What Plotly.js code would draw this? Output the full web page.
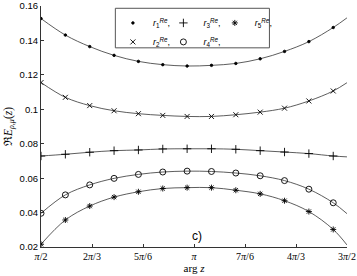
<!DOCTYPE html>
<html><head><meta charset="utf-8">
<script src="https://cdn.plot.ly/plotly-3.0.1.min.js"></script>
<style>html,body{margin:0;padding:0;background:#fff}#chart{width:357px;height:276px}</style>
</head><body><div id="chart"></div>
<script>
// marker positions (arg z, radians)
const argMarkers = [1.571, 1.821, 2.071, 2.321, 2.571, 2.821, 3.071, 3.321, 3.571, 3.821, 4.071, 4.321, 4.571];
const argEnd = 4.712;
const r1 = [0.1528,0.1432,0.1365,0.1314,0.1279,0.1260,0.1252,0.1256,0.1267,0.1294,0.1337,0.1394,0.1476];
const r1End = 0.1532;
const r2 = [0.1156,0.1070,0.1022,0.0992,0.0975,0.0965,0.0959,0.0959,0.0969,0.0984,0.1007,0.1049,0.1107];
const r2End = 0.1155;
const r3 = [0.0729,0.0739,0.0751,0.0760,0.0764,0.0770,0.0771,0.0771,0.0768,0.0760,0.0752,0.0743,0.0729];
const r3End = 0.0724;
const r4 = [0.0396,0.0503,0.0561,0.0599,0.0622,0.0636,0.0641,0.0639,0.0630,0.0614,0.0586,0.0536,0.0457];
const r4End = 0.0394;
const r5 = [0.0216,0.0357,0.0438,0.0490,0.0521,0.0540,0.0545,0.0545,0.0530,0.0509,0.0469,0.0406,0.0302];
const r5End = 0.0212;
const seriesNames = ['<i>r</i><sub>1</sub><sup><i>Re</i></sup>,', '<i>r</i><sub>2</sub><sup><i>Re</i></sup>,', '<i>r</i><sub>3</sub><sup><i>Re</i></sup>,', '<i>r</i><sub>4</sub><sup><i>Re</i></sup>,', '<i>r</i><sub>5</sub><sup><i>Re</i></sup>,'];
const xTickVals = [1.5708, 2.0944, 2.618, 3.1416, 3.6652, 4.1888, 4.7124];
const xTickText = ['<i>π</i>/2', '2<i>π</i>/3', '5<i>π</i>/6', '<i>π</i>', '7<i>π</i>/6', '4<i>π</i>/3', '3<i>π</i>/2'];
const yTickVals = [0.02, 0.04, 0.06, 0.08, 0.1, 0.12, 0.14, 0.16];
const yTickText = ['0.02', '0.04', '0.06', '0.08', '0.1', '0.12', '0.14', '0.16'];

const series = [
  {y: r1, end: r1End, sym: 'circle', size: 2.5, leg: 'legend'},
  {y: r2, end: r2End, sym: 'x-thin-open', size: 5, leg: 'legend'},
  {y: r3, end: r3End, sym: 'cross-thin-open', size: 6, leg: 'legend2'},
  {y: r4, end: r4End, sym: 'circle-open', size: 6, leg: 'legend2'},
  {y: r5, end: r5End, sym: 'asterisk-open', size: 5, leg: 'legend3'}
];
const traces = [];
series.forEach((s, i) => {
  traces.push({x: argMarkers.concat([argEnd]), y: s.y.concat([s.end]), mode: 'lines',
    line: {shape: 'spline', color: '#333', width: 0.8}, showlegend: false, hoverinfo: 'skip'});
});
series.forEach((s, i) => {
  traces.push({x: argMarkers, y: s.y, mode: 'markers', name: seriesNames[i], legend: s.leg,
    marker: {symbol: s.sym, size: s.size, color: '#000', line: {color: '#000', width: 0.9}}});
});
const legCommon = {orientation: 'v', bgcolor: 'rgba(0,0,0,0)', borderwidth: 0,
  font: {family: 'Liberation Sans', size: 9, color: '#000'}, yanchor: 'top', y: 0.99, xanchor: 'left', tracegroupgap: 0};
const layout = {
  width: 357, height: 276,
  margin: {l: 40.5, r: 10, t: 5.5, b: 29},
  paper_bgcolor: '#fff', plot_bgcolor: '#fff',
  showlegend: true,
  legend: Object.assign({}, legCommon, {x: 0.235}),
  legend2: Object.assign({}, legCommon, {x: 0.4}),
  legend3: Object.assign({}, legCommon, {x: 0.568}),
  xaxis: {range: [1.5708, 4.7124], tickvals: xTickVals, ticktext: xTickText, ticks: 'inside', ticklen: 3,
    tickcolor: '#333', showline: true, linecolor: '#333', linewidth: 1, showgrid: false, zeroline: false,
    tickfont: {family: 'Liberation Serif', size: 10, color: '#000'},
    title: {text: 'arg <i>z</i>', font: {family: 'Liberation Serif', size: 11, color: '#000'}, standoff: 1}},
  yaxis: {range: [0.02, 0.1601], tickvals: yTickVals, ticktext: yTickText, ticks: 'inside', ticklen: 3,
    ticklabeloverflow: 'allow',
    tickcolor: '#333', showline: true, linecolor: '#333', linewidth: 1, showgrid: false, zeroline: false,
    tickfont: {family: 'Liberation Sans', size: 9.5, color: '#000'},
    title: {text: 'ℜ<i>E</i><sub><i>ρ,μ</i></sub>(<i>z</i>)', font: {family: 'Liberation Serif', size: 11.5, color: '#000'}, standoff: 4}},
  shapes: [{type: 'rect', xref: 'paper', yref: 'paper', x0: 0.243, x1: 0.7465, y0: 0.8264, y1: 0.9905,
    line: {color: '#555', width: 1}, fillcolor: 'rgba(0,0,0,0)'}],
  annotations: [{x: 3.17, y: 0.0264, xref: 'x', yref: 'y', text: 'c)', showarrow: false,
    font: {family: 'Liberation Sans', size: 12, color: '#000'}}]
};
Plotly.newPlot('chart', traces, layout, {displayModeBar: false, staticPlot: true});
</script></body></html>
